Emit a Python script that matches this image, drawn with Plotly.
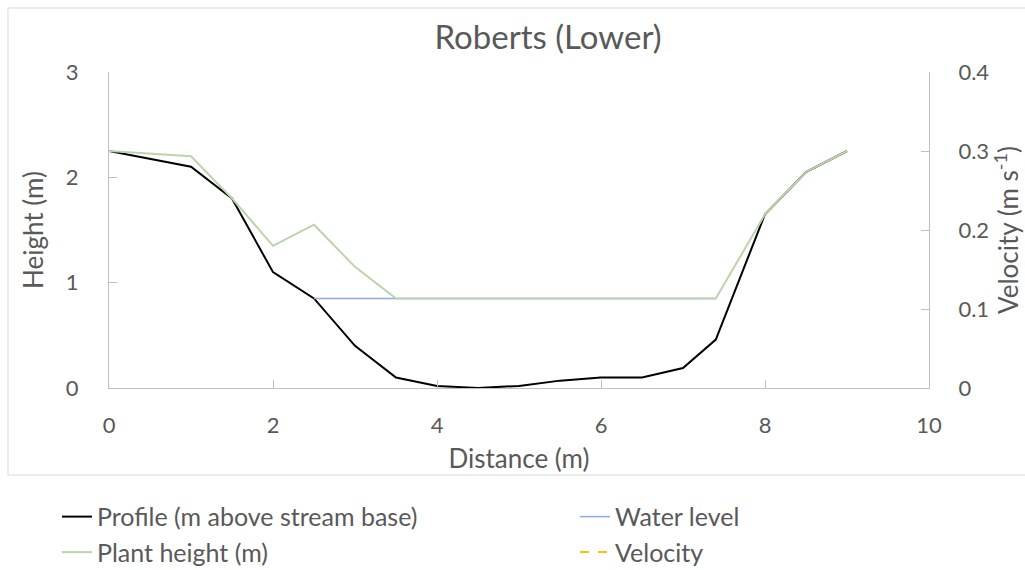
import plotly.graph_objects as go

# Data
distance = [0, 1, 1.5, 2, 2.5, 3, 3.5, 4, 4.5, 5, 5.5, 6, 6.5, 7, 7.4, 8, 8.5, 9]
profile = [2.25, 2.1, 1.8, 1.1, 0.85, 0.4, 0.1, 0.02, 0.0, 0.02, 0.07, 0.1, 0.1, 0.19, 0.46, 1.65, 2.05, 2.25]
water_x = [2.5, 7.4]
water_level = [0.85, 0.85]
plant_x = [0, 1, 1.5, 2, 2.5, 3, 3.5, 7.4, 8, 8.5, 9]
plant_height = [2.25, 2.2, 1.8, 1.35, 1.55, 1.15, 0.85, 0.85, 1.65, 2.05, 2.25]
velocity = [None] * len(distance)   # no velocity values drawn

FONT = "Lato"
GRAY_TXT = "#595959"
AX = "#BFBFBF"

fig = go.Figure()
fig.add_trace(go.Scatter(x=distance, y=profile, mode="lines", name="Profile (m above stream base)",
                         line=dict(color="#000000", width=2), legend="legend"))
fig.add_trace(go.Scatter(x=water_x, y=water_level, mode="lines", name="Water level",
                         line=dict(color="#8FAADC", width=1.5), legend="legend2"))
fig.add_trace(go.Scatter(x=plant_x, y=plant_height, mode="lines", name="Plant height (m)",
                         line=dict(color="#BDD3AB", width=2), legend="legend"))
fig.add_trace(go.Scatter(x=distance, y=velocity, mode="lines", name="Velocity", yaxis="y2",
                         line=dict(color="#FFC000", width=2, dash="dash"), legend="legend2"))

leg_common = dict(orientation="v", yanchor="top", xanchor="left", y=-0.335,
                  font=dict(family=FONT, size=25, color=GRAY_TXT), bgcolor="rgba(0,0,0,0)",
                  traceorder="normal", tracegroupgap=0)

fig.update_layout(
    width=1025, height=570,
    margin=dict(l=109, r=96, t=72, b=182, autoexpand=False),
    paper_bgcolor="white", plot_bgcolor="white",
    font=dict(family=FONT, size=22, color=GRAY_TXT),
    title=dict(text="Roberts (Lower)", x=548 / 1025, xref="container", xanchor="center",
               y=1 - 37 / 570, yref="container", yanchor="middle",
               font=dict(family=FONT, size=33, color=GRAY_TXT)),
    xaxis=dict(range=[0, 10], dtick=2, showgrid=False, zeroline=False,
               showline=True, linecolor=AX, linewidth=1,
               ticks="inside", ticklen=8, tickcolor=AX, ticklabelstandoff=18,
               tickfont=dict(size=22),
               title=dict(text="Distance (m)", standoff=12, font=dict(size=26, color=GRAY_TXT))),
    yaxis=dict(range=[0, 3], dtick=1, showgrid=False, zeroline=False,
               showline=True, linecolor=AX, linewidth=1,
               ticks="inside", ticklen=8, tickcolor=AX, ticklabelstandoff=25,
               tickfont=dict(size=22),
               title=dict(text="Height (m)", standoff=14, font=dict(size=26, color=GRAY_TXT))),
    yaxis2=dict(range=[0, 0.4], dtick=0.1, overlaying="y", side="right",
                showgrid=False, zeroline=False, showline=True, linecolor=AX, linewidth=1,
                ticks="inside", ticklen=8, tickcolor=AX, ticklabelstandoff=24,
                tickfont=dict(size=22),
                title=dict(text="Velocity (m s<sup>-1</sup>)", standoff=6,
                           font=dict(size=26, color=GRAY_TXT))),
    legend=dict(x=(57 - 109) / 820, **leg_common),
    legend2=dict(x=(575 - 109) / 820, **leg_common),
    shapes=[dict(type="rect", xref="paper", yref="paper", x0=(8 - 109) / 820, x1=1.14,
                 y0=(388 - 475) / 316, y1=(388 - 8) / 316,
                 line=dict(color="#D9D9D9", width=1), layer="below")],
)

fig.write_html("out.html")
